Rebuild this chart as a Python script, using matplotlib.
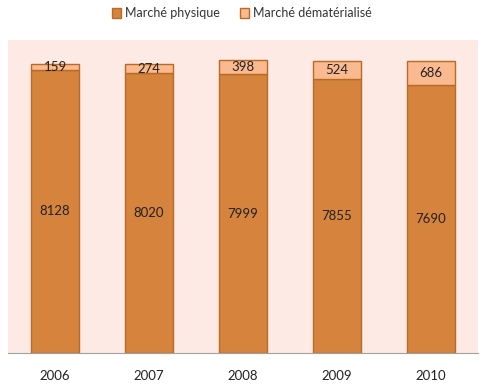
import matplotlib.pyplot as plt
import numpy as np

plt.rcParams["font.family"] = ["Lato", "DejaVu Sans"]

years = ["2006", "2007", "2008", "2009", "2010"]
physique = [8128, 8020, 7999, 7855, 7690]
dematerialise = [159, 274, 398, 524, 686]

fig = plt.figure(figsize=(4.84, 3.86), dpi=100)
ax = fig.add_axes([8 / 484, 33 / 386, 470 / 484, 313 / 386])
ax.set_facecolor("#FDEAE4")

x = np.arange(len(years))
b1 = ax.bar(x, physique, 0.52, color="#D5833D", edgecolor="#B96A26", linewidth=1,
            label="Marché physique")
b2 = ax.bar(x, dematerialise, 0.52, bottom=physique, color="#FBB990", edgecolor="#B96A26",
            linewidth=1, label="Marché dématérialisé")
ax.bar_label(b1, labels=[str(v) for v in physique], label_type="center", fontsize=9.5, color="#222222")
ax.bar_label(b2, labels=[str(v) for v in dematerialise], label_type="center", fontsize=9.5, color="#222222")

ax.set_xlim(-0.5, 4.5)
ax.set_ylim(0, 8980)
ax.set_xticks(x)
ax.set_xticklabels(years, fontsize=9.5, color="#222222")
ax.tick_params(axis="x", length=0, pad=12)
ax.set_yticks([])
for s in ["top", "left", "right"]:
    ax.spines[s].set_visible(False)
ax.spines["bottom"].set_color("#A0A0A0")

fig.legend(loc="upper center", bbox_to_anchor=(0.5, 1.01), ncol=2, frameon=False, fontsize=9,
           handlelength=0.75, handleheight=0.75, handletextpad=0.3, columnspacing=1.6,
           labelcolor="#333333")

fig.savefig("out.png", dpi=100)
